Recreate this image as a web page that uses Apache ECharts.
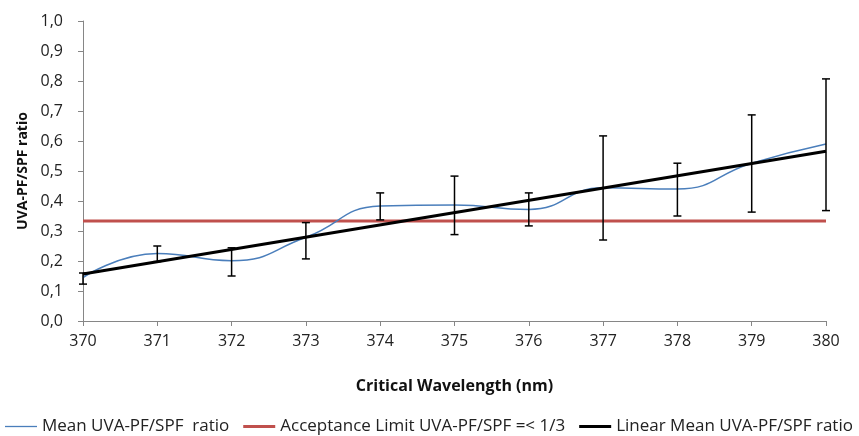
<!DOCTYPE html>
<html>
<head>
<meta charset="utf-8">
<script src="https://cdn.jsdelivr.net/npm/echarts@6/dist/echarts.min.js"></script>
<style>
  html, body { margin: 0; padding: 0; background: #fff; }
  #chart { width: 859px; height: 436px; }
</style>
</head>
<body>
<div id="chart"></div>
<script>
// values
const wavelengths = [370, 371, 372, 373, 374, 375, 376, 377, 378, 379, 380]
const meanRatio = [0.145, 0.225, 0.201, 0.279, 0.383, 0.387, 0.372, 0.444, 0.44, 0.526, 0.59]
const errLow = [0.123, 0.198, 0.15, 0.207, 0.337, 0.288, 0.317, 0.27, 0.35, 0.363, 0.368]
const errHigh = [0.16, 0.25, 0.244, 0.328, 0.427, 0.483, 0.427, 0.617, 0.526, 0.687, 0.807]
const limitValue = 1 / 3
const linearEnds = [[370, 0.157], [380, 0.566]]

const fontFam = "'Open Sans', sans-serif"

const chart = echarts.init(document.getElementById('chart'))

const option = {
  animation: false,
  textStyle: { fontFamily: fontFam },
  grid: { left: 83, right: 33, top: 21, bottom: 115, containLabel: false },
  legend: {
    left: 0,
    top: 413,
    itemWidth: 32,
    itemHeight: 12,
    itemGap: 14,
    textStyle: { fontFamily: fontFam, fontSize: 17, color: '#222' },
    data: [
      { name: 'Mean UVA-PF/SPF  ratio', icon: 'path://M0 0H32V1.3H0Z' },
      { name: 'Acceptance Limit UVA-PF/SPF =< 1/3', icon: 'path://M0 0H32V3H0Z' },
      { name: 'Linear Mean UVA-PF/SPF ratio', icon: 'path://M0 0H32V3.2H0Z' }
    ]
  },
  xAxis: {
    type: 'value',
    min: 370,
    max: 380,
    interval: 1,
    name: 'Critical Wavelength (nm)',
    nameLocation: 'middle',
    nameGap: 57,
    nameTextStyle: { fontFamily: fontFam, fontSize: 16, fontWeight: 'bold', color: '#111' },
    axisLine: { lineStyle: { color: '#868686', width: 1 } },
    axisTick: { show: true, length: 5, inside: false, lineStyle: { color: '#868686' } },
    axisLabel: { fontFamily: fontFam, fontSize: 16, color: '#222', margin: 12 },
    splitLine: { show: false }
  },
  yAxis: {
    type: 'value',
    min: 0,
    max: 1,
    interval: 0.1,
    name: 'UVA-PF/SPF ratio',
    nameLocation: 'middle',
    nameGap: 53,
    nameTextStyle: { fontFamily: fontFam, fontSize: 14, fontWeight: 'bold', color: '#111' },
    axisLine: { show: true, lineStyle: { color: '#868686', width: 1 } },
    axisTick: { show: true, length: 5, inside: false, lineStyle: { color: '#868686' } },
    axisLabel: {
      fontFamily: fontFam, fontSize: 16, color: '#222', margin: 20,
      formatter: v => v.toFixed(1).replace('.', ',')
    },
    splitLine: { show: false }
  },
  series: [
    {
      name: 'Mean UVA-PF/SPF  ratio',
      type: 'line',
      data: wavelengths.map((w, i) => [w, meanRatio[i]]),
      smooth: 0.5,
      symbol: 'none',
      lineStyle: { color: '#4a7ebb', width: 1.5 },
      itemStyle: { color: '#4a7ebb' },
      z: 3
    },
    {
      name: 'Acceptance Limit UVA-PF/SPF =< 1/3',
      type: 'line',
      data: [[wavelengths[0], limitValue], [wavelengths[wavelengths.length - 1], limitValue]],
      symbol: 'none',
      lineStyle: { color: '#c0504d', width: 3 },
      itemStyle: { color: '#c0504d' },
      z: 2
    },
    {
      name: 'Linear Mean UVA-PF/SPF ratio',
      type: 'line',
      data: linearEnds,
      symbol: 'none',
      lineStyle: { color: '#000', width: 3 },
      itemStyle: { color: '#000' },
      z: 4
    },
    {
      name: 'error',
      type: 'custom',
      data: wavelengths.map((w, i) => [w, errLow[i], errHigh[i]]),
      renderItem: function (params, api) {
        const lo = api.coord([api.value(0), api.value(1)])
        const hi = api.coord([api.value(0), api.value(2)])
        const cap = 4
        const st = { stroke: '#000', lineWidth: 1.5 }
        return {
          type: 'group',
          children: [
            { type: 'line', shape: { x1: lo[0], y1: lo[1], x2: hi[0], y2: hi[1] }, style: st },
            { type: 'line', shape: { x1: hi[0] - cap, y1: hi[1], x2: hi[0] + cap, y2: hi[1] }, style: st },
            { type: 'line', shape: { x1: lo[0] - cap, y1: lo[1], x2: lo[0] + cap, y2: lo[1] }, style: st }
          ]
        }
      },
      z: 5
    }
  ]
}

chart.setOption(option)
</script>
</body>
</html>
